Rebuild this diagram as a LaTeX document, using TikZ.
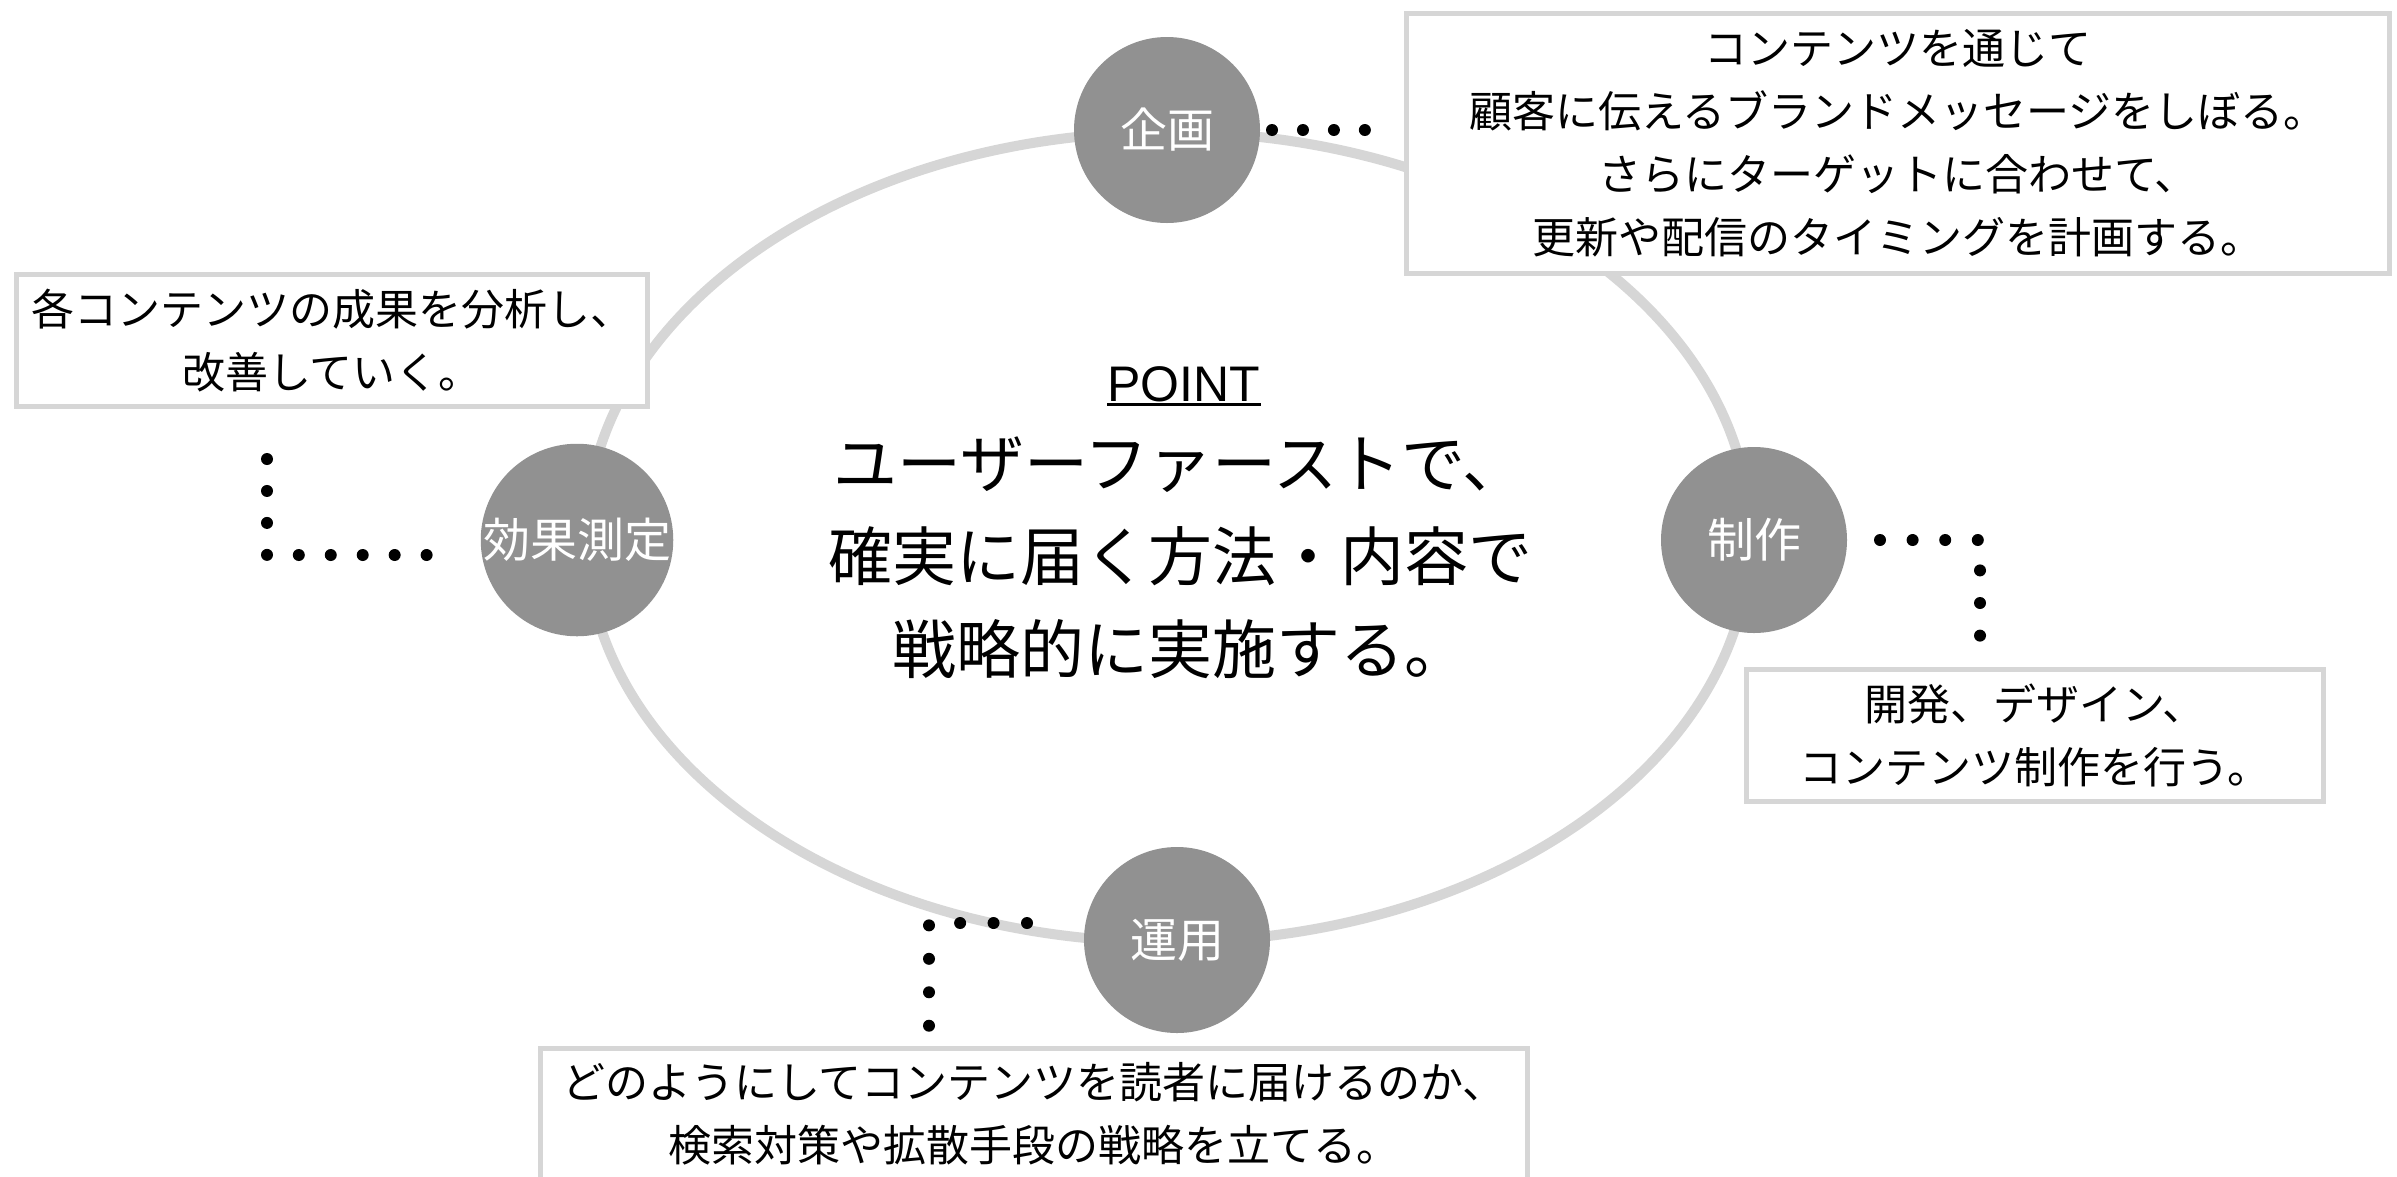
\documentclass[tikz,border=0pt]{standalone}
\usepackage{fontspec}
\setmainfont{Noto Sans CJK JP}
\newfontfamily\latinfont{Liberation Sans}
\definecolor{ringgray}{HTML}{D6D6D6}
\definecolor{discgray}{HTML}{919191}
\definecolor{framegray}{HTML}{D6D6D6}
\begin{document}
\begin{tikzpicture}[x=1pt,y=-1pt,
  stage/.style={circle, fill=discgray, minimum size=186pt, inner sep=0pt, text=white, font=\fontsize{47}{56}\selectfont},
  note/.style={draw=framegray, line width=5pt, fill=white, align=center, inner sep=0pt, font=\fontsize{43}{63}\selectfont},
  dotrow/.style={line width=12pt, line cap=round, dash pattern=on 0pt off #1pt},
]
\useasboundingbox (0,0) rectangle (2397,1176);
\fill[white] (0,0) rectangle (2397,1176);
% ring
\draw[ringgray, line width=10pt] (1168,537) ellipse [x radius=582pt, y radius=405pt];
% stages
\node[stage] (kikaku) at (1167,130) {企画};
\node[stage] (koka) at (577,540) {効果測定};
\node[stage] (seisaku) at (1754,540) {制作};
\node[stage] (unyo) at (1177,940) {運用};
% notes
\node[note, minimum width=983pt, minimum height=260pt] (n1) at (1898,143.5)
  {コンテンツを通じて\\顧客に伝えるブランドメッセージをしぼる。\\さらにターゲットに合わせて、\\更新や配信のタイミングを計画する。};
\node[note, minimum width=631pt, minimum height=132pt] (n2) at (332,340.5)
  {各コンテンツの成果を分析し、\\改善していく。};
\node[note, minimum width=577pt, minimum height=132pt] (n3) at (2035,735.5)
  {開発、デザイン、\\コンテンツ制作を行う。};
\node[note, minimum width=987pt, minimum height=131pt] (n4) at (1034,1114)
  {どのようにしてコンテンツを読者に届けるのか、\\検索対策や拡散手段の戦略を立てる。};
% dotted leaders
\coordinate (a1) at (1272,130); \coordinate (a2) at (1365,130);
\draw[dotrow=30.95] (a1) -- (a2);
\coordinate (b1) at (267,459); \coordinate (b2) at (267,555); \coordinate (b3) at (427,555);
\draw[dotrow=31.95] (b1) -- (b2) -- (b3);
\coordinate (c1) at (1880,540); \coordinate (c2) at (1980,540); \coordinate (c3) at (1980,636);
\draw[dotrow=32.6] (c1) -- (c2) -- (c3);
\coordinate (e1) at (1027,923); \coordinate (e2) at (929,923); \coordinate (e3) at (929,1026);
\draw[dotrow=33.45] (e1) -- (e2) -- (e3);
% center message
\node[font=\latinfont\fontsize{50}{60}\selectfont, inner sep=0pt, anchor=base] (point) at (1184,401) {POINT};
\draw[line width=3pt] ([yshift=-3pt]point.base west) -- ([yshift=-3pt]point.base east);
\node[font=\fontsize{64}{93}\selectfont, align=center, inner sep=0pt] (msg) at (1180,558)
  {ユーザーファーストで、\\確実に届く方法・内容で\\戦略的に実施する。};
\end{tikzpicture}
\end{document}
